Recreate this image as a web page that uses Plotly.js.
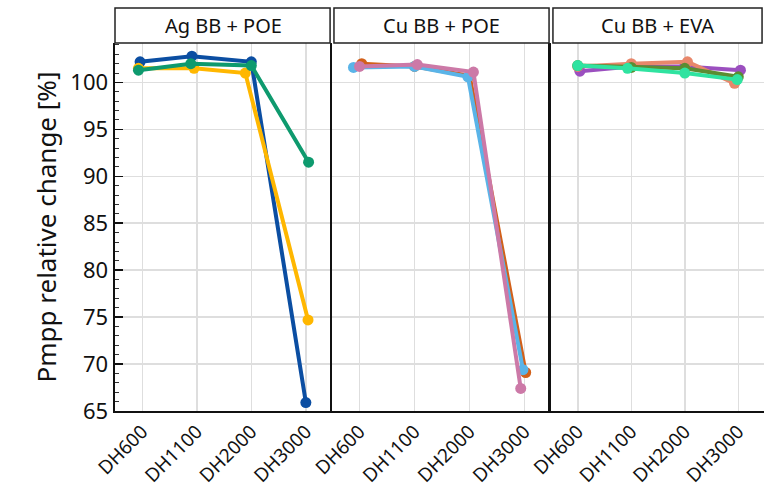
<!DOCTYPE html>
<html>
<head>
<meta charset="utf-8">
<script src="https://cdn.plot.ly/plotly-3.0.1.min.js"></script>
<style>html,body{margin:0;padding:0;background:#fff;}#chart{width:768px;height:489px;}</style>
</head>
<body>
<div id="chart"></div>
<script>
// ---- data ----
const categories = ["DH600", "DH1100", "DH2000", "DH3000"];
const panels = ["Ag BB + POE", "Cu BB + POE", "Cu BB + EVA"];

// Ag BB + POE
const agBlue   = [102.2, 102.8, 102.2, 65.9];
const agYellow = [101.5, 101.5, 101.0, 74.7];
const agGreen  = [101.3, 102.0, 101.8, 91.5];
const agBlueDodge   = [-0.04, -0.09, 0.00, 0.00];
const agYellowDodge = [-0.07, -0.05, -0.11, 0.04];
const agGreenDodge  = [-0.07, -0.11, 0.00, 0.05];

// Cu BB + POE
const cuPoeOrange = [102.0, 101.7, 100.7, 69.1];
const cuPoeBlue   = [101.6, 101.7, 100.6, 69.4];
const cuPoePink   = [101.7, 101.9, 101.1, 67.4];
const cuPoeOrangeDodge = [0.04, 0.00, 0.00, 0.02];
const cuPoeBlueDodge   = [-0.11, 0.00, -0.03, -0.03];
const cuPoePinkDodge   = [0.00, 0.05, 0.07, -0.07];

// Cu BB + EVA
const cuEvaPurple = [101.2, 101.7, 101.7, 101.3];
const cuEvaSalmon = [101.7, 102.0, 102.2, 99.9];
const cuEvaOlive  = [101.8, 101.6, 101.5, 100.6];
const cuEvaAqua   = [101.8, 101.5, 101.0, 100.3];
const cuEvaPurpleDodge = [0.04, 0.00, 0.00, 0.04];
const cuEvaSalmonDodge = [0.00, 0.00, 0.05, -0.07];
const cuEvaOliveDodge  = [0.00, 0.00, 0.00, 0.00];
const cuEvaAquaDodge   = [0.00, -0.07, 0.00, -0.02];

const yTicks = [65, 70, 75, 80, 85, 90, 95, 100];

// ---- build ----
const idx = categories.map((c, i) => i);
function series(vals, dodge, color, panel) {
  const ax = panel === 1 ? "" : String(panel);
  return {
    x: idx.map(i => i + dodge[i]),
    y: vals,
    xaxis: "x" + ax,
    yaxis: "y" + ax,
    mode: "lines+markers",
    type: "scatter",
    line: {color: color, width: 4},
    marker: {color: color, size: 11},
    showlegend: false,
    hoverinfo: "x+y"
  };
}

const data = [
  series(agBlue, agBlueDodge, "#0B4EA2", 1),
  series(agYellow, agYellowDodge, "#FFB700", 1),
  series(agGreen, agGreenDodge, "#0E9A6E", 1),
  series(cuPoeOrange, cuPoeOrangeDodge, "#D2601A", 2),
  series(cuPoeBlue, cuPoeBlueDodge, "#5AB4E8", 2),
  series(cuPoePink, cuPoePinkDodge, "#CC79A7", 2),
  series(cuEvaPurple, cuEvaPurpleDodge, "#9B4FBF", 3),
  series(cuEvaSalmon, cuEvaSalmonDodge, "#E8876B", 3),
  series(cuEvaOlive, cuEvaOliveDodge, "#5B8C32", 3),
  series(cuEvaAqua, cuEvaAquaDodge, "#2FE3A0", 3)
];

const font = "Noto Sans, Open Sans, sans-serif";
const domains = [[0, 0.3344], [0.3344, 0.6718], [0.6718, 1]];
const layout = {
  width: 768, height: 489,
  margin: {l: 115, r: 4, t: 43, b: 78},
  paper_bgcolor: "#fff", plot_bgcolor: "#fff",
  font: {family: font, color: "#111"},
  shapes: [], annotations: []
};

for (let p = 0; p < 3; p++) {
  const s = p === 0 ? "" : String(p + 1);
  layout["xaxis" + s] = {
    domain: domains[p],
    anchor: "y" + s,
    range: [-0.5, 3.48],
    tickmode: "array",
    tickvals: idx,
    ticktext: categories,
    tickangle: -45,
    tickfont: {size: 19, color: "#111", family: font},
    ticks: "",
    showgrid: true, gridcolor: "#dedede", gridwidth: 1.5,
    zeroline: false,
    showline: true, linecolor: "#111", linewidth: 2
  };
  layout["yaxis" + s] = {
    domain: [0, 1],
    anchor: "x" + s,
    range: [65, 104.2],
    tickmode: "array",
    tickvals: yTicks,
    showticklabels: p === 0,
    tickfont: {size: 22, color: "#111", family: font},
    ticks: p === 0 ? "inside" : "",
    ticklen: 8, tickwidth: 1.5, tickcolor: "#111",
    minor: p === 0 ? {dtick: 1, ticks: "inside", ticklen: 4, tickwidth: 1, tickcolor: "#333", showgrid: false} : {},
    showgrid: true, gridcolor: "#dedede", gridwidth: 1.5,
    zeroline: false,
    showline: true, linecolor: "#111", linewidth: 2.5
  };
  if (p === 0) {
    layout.yaxis.title = {text: "Pmpp relative change [%]", font: {size: 26, color: "#111", family: font}, standoff: 6};
  }
  // strip
  layout.shapes.push({
    type: "rect", xref: "paper", yref: "paper",
    x0: domains[p][0] + (p === 0 ? 0.0 : 0.003), x1: domains[p][1] - 0.003,
    y0: 1.0, y1: 1.095,
    fillcolor: "#fff", line: {color: "#222", width: 1.5}, layer: "above"
  });
  layout.annotations.push({
    xref: "paper", yref: "paper",
    x: (domains[p][0] + domains[p][1]) / 2, y: 1.047,
    xanchor: "center", yanchor: "middle",
    text: panels[p], showarrow: false,
    font: {size: 20, color: "#111", family: font}
  });
}

Plotly.newPlot("chart", data, layout, {displayModeBar: false, staticPlot: true});
</script>
</body>
</html>
